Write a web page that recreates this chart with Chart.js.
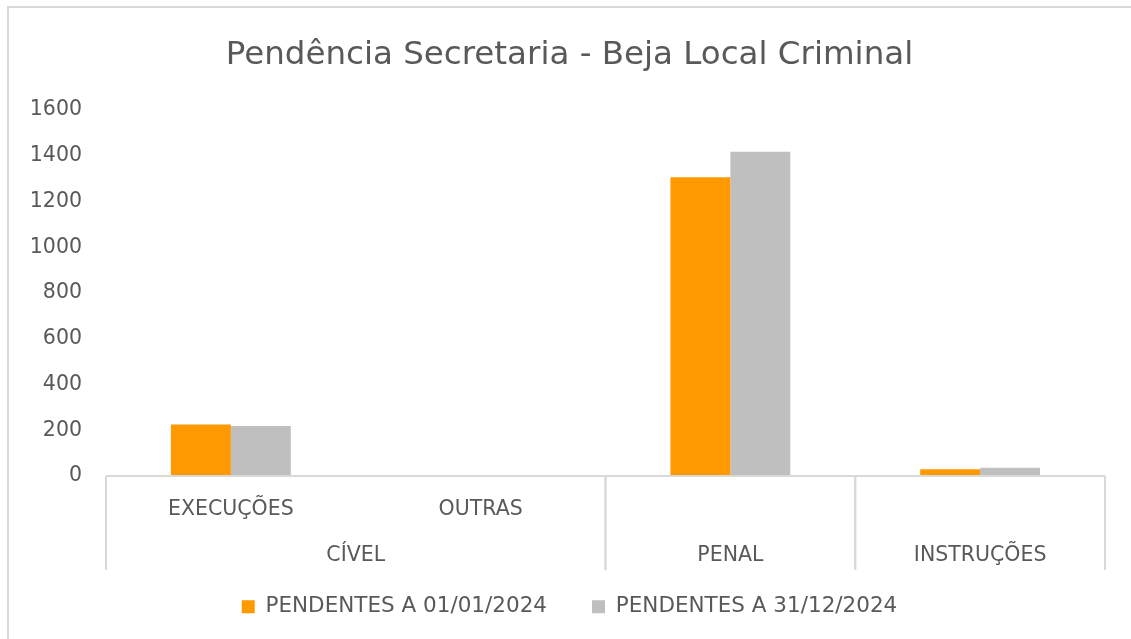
<!DOCTYPE html>
<html>
<head>
<meta charset="utf-8">
<script src="https://cdn.jsdelivr.net/npm/chart.js@4"></script>
<style>
  html, body { margin: 0; padding: 0; background: #fff; }
  #wrap { width: 1131px; height: 639px; }
</style>
</head>
<body>
<div id="wrap"><canvas id="pendenciaChartId"></canvas></div>
<script>
const subCategories = ['EXECUÇÕES', 'OUTRAS', 'PENAL', 'INSTRUÇÕES'];
const groupLabels = ['CÍVEL', 'CÍVEL', 'PENAL', 'INSTRUÇÕES'];
const pendentesInicio = [225, 0, 1306, 30];
const pendentesFim = [219, 0, 1417, 36];
const seriesNames = ['PENDENTES A 01/01/2024', 'PENDENTES A 31/12/2024'];

const textColor = '#595959';
const lineColor = '#d9d9d9';
const fontFamily = '"DejaVu Sans", sans-serif';

// outer frame like the excel chart area
const framePlugin = {
    id: 'frame',
    beforeDraw(chart) {
        const ctx = chart.ctx;
        ctx.save();
        ctx.strokeStyle = lineColor;
        ctx.lineWidth = 2;
        ctx.beginPath();
        ctx.moveTo(8, chart.height);
        ctx.lineTo(8, 7);
        ctx.lineTo(chart.width, 7);
        ctx.stroke();
        ctx.restore();
    }
};

// two level category axis (sub labels + group labels with dividers)
const groupAxisPlugin = {
    id: 'groupAxis',
    afterDatasetsDraw(chart) {
        const ctx = chart.ctx;
        const x = chart.scales.x;
        const area = chart.chartArea;
        const half = (x.getPixelForValue(1) - x.getPixelForValue(0)) / 2;
        const base = area.bottom;

        ctx.save();
        ctx.strokeStyle = lineColor;
        ctx.lineWidth = 2;
        ctx.beginPath();
        ctx.moveTo(area.left, base);
        ctx.lineTo(area.right, base);
        ctx.stroke();

        ctx.fillStyle = textColor;
        ctx.font = '20.5px ' + fontFamily;
        ctx.textAlign = 'center';
        ctx.textBaseline = 'middle';

        let start = 0;
        for (let i = 0; i <= subCategories.length; i++) {
            if (i < subCategories.length && groupLabels[i] === groupLabels[start]) continue;
            const left = x.getPixelForValue(start) - half;
            const right = x.getPixelForValue(i - 1) + half;
            const hasSub = (i - start > 1) || subCategories[start] !== groupLabels[start];
            if (hasSub) {
                for (let j = start; j < i; j++) {
                    ctx.fillText(subCategories[j], x.getPixelForValue(j), base + 34);
                }
            }
            ctx.fillText(groupLabels[start], (left + right) / 2, base + 80);
            ctx.beginPath();
            ctx.moveTo(left, base);
            ctx.lineTo(left, base + 94);
            ctx.moveTo(right, base);
            ctx.lineTo(right, base + 94);
            ctx.stroke();
            start = i;
        }
        ctx.restore();
    }
};

const ctx = document.getElementById('pendenciaChartId');

new Chart(ctx, {
    type: 'bar',
    data: {
        labels: subCategories,
        datasets: [
            {
                label: seriesNames[0],
                data: pendentesInicio,
                backgroundColor: '#FF9900',
                borderWidth: 0
            },
            {
                label: seriesNames[1],
                data: pendentesFim,
                backgroundColor: '#BFBFBF',
                borderWidth: 0
            }
        ]
    },
    options: {
        responsive: true,
        maintainAspectRatio: false,
        animation: false,
        layout: { padding: { left: 8, right: 0, top: 10, bottom: 11.5 } },
        datasets: { bar: { categoryPercentage: 0.48, barPercentage: 1.0 } },
        plugins: {
            title: {
                display: true,
                text: 'Pendência Secretaria - Beja Local Criminal',
                color: textColor,
                font: { family: fontFamily, size: 32.5, weight: 'normal' },
                padding: { top: 26.5, bottom: 34.5 }
            },
            legend: {
                position: 'bottom',
                labels: {
                    color: textColor,
                    font: { family: fontFamily, size: 21.5 },
                    boxWidth: 13,
                    boxHeight: 13,
                    padding: 45
                }
            },
            tooltip: { enabled: false }
        },
        scales: {
            x: {
                grid: { display: false },
                border: { display: false },
                ticks: { display: false },
                afterFit(scale) { scale.height = 75; }
            },
            y: {
                min: 0,
                max: 1600,
                grid: { display: false },
                border: { display: false },
                ticks: {
                    stepSize: 200,
                    color: textColor,
                    font: { family: fontFamily, size: 20.5 },
                    padding: 16,
                    callback: value => String(value)
                },
                afterFit(scale) { scale.width = 98; }
            },
            // empty right margin so title and legend centre on the whole frame
            yRight: {
                position: 'right',
                display: true,
                grid: { display: false },
                border: { display: false },
                ticks: { display: false },
                afterFit(scale) { scale.width = 26; }
            }
        }
    },
    plugins: [framePlugin, groupAxisPlugin]
});
</script>
</body>
</html>
